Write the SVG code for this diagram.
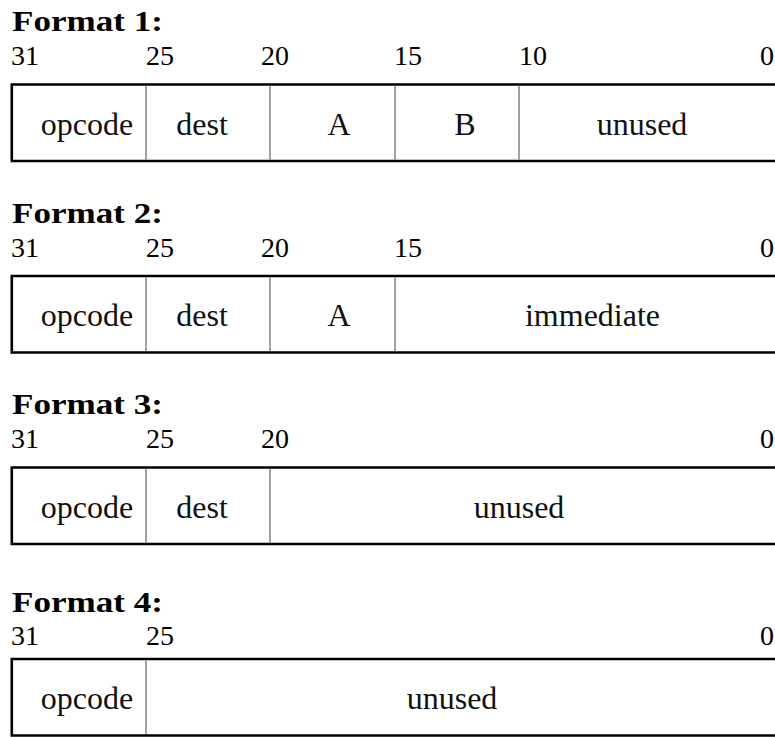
<svg xmlns="http://www.w3.org/2000/svg" width="775" height="737" viewBox="0 0 775 737" font-family="'Liberation Serif', 'Times New Roman', serif">
<style>
text{font-family:"Liberation Serif","Times New Roman",serif}
.title{font-weight:bold;font-size:30px;fill:#000}
.bit{font-size:28px;fill:#000}
.field{font-size:32px;fill:#111;text-anchor:middle}
.frame{fill:none;stroke:#000;stroke-width:2.6}
.div{stroke:#7a7a7a;stroke-width:1.4}
</style>
<rect width="775" height="737" fill="#fff"/>

<g id="format1">
<text class="title" x="12" y="31" textLength="151" lengthAdjust="spacingAndGlyphs">Format 1:</text>
<text class="bit" x="11" y="65">31</text>
<text class="bit" x="146" y="65">25</text>
<text class="bit" x="261" y="65">20</text>
<text class="bit" x="394" y="65">15</text>
<text class="bit" x="519" y="65">10</text>
<text class="bit" x="774" y="65" text-anchor="end">0</text>
<path class="frame" d="M776,84.5 H11.8 V161 H776"/>
<line class="div" x1="146" y1="85.8" x2="146" y2="159.7"/>
<line class="div" x1="270" y1="85.8" x2="270" y2="159.7"/>
<line class="div" x1="395" y1="85.8" x2="395" y2="159.7"/>
<line class="div" x1="519" y1="85.8" x2="519" y2="159.7"/>
<text class="field" x="87" y="134.5">opcode</text>
<text class="field" x="202" y="134.5">dest</text>
<text class="field" x="339" y="134.5">A</text>
<text class="field" x="465" y="134.5">B</text>
<text class="field" x="642" y="134.5">unused</text>
</g>

<g id="format2">
<text class="title" x="12" y="222.5" textLength="151" lengthAdjust="spacingAndGlyphs">Format 2:</text>
<text class="bit" x="11" y="256.5">31</text>
<text class="bit" x="146" y="256.5">25</text>
<text class="bit" x="261" y="256.5">20</text>
<text class="bit" x="394" y="256.5">15</text>
<text class="bit" x="774" y="256.5" text-anchor="end">0</text>
<path class="frame" d="M776,276 H11.8 V352.5 H776"/>
<line class="div" x1="146" y1="277.3" x2="146" y2="351.2"/>
<line class="div" x1="270" y1="277.3" x2="270" y2="351.2"/>
<line class="div" x1="395" y1="277.3" x2="395" y2="351.2"/>
<text class="field" x="87" y="326">opcode</text>
<text class="field" x="202" y="326">dest</text>
<text class="field" x="339" y="326">A</text>
<text class="field" x="592.5" y="326">immediate</text>
</g>

<g id="format3">
<text class="title" x="12" y="414" textLength="151" lengthAdjust="spacingAndGlyphs">Format 3:</text>
<text class="bit" x="11" y="448">31</text>
<text class="bit" x="146" y="448">25</text>
<text class="bit" x="261" y="448">20</text>
<text class="bit" x="774" y="448" text-anchor="end">0</text>
<path class="frame" d="M776,467.5 H11.8 V544 H776"/>
<line class="div" x1="146" y1="468.8" x2="146" y2="542.7"/>
<line class="div" x1="270" y1="468.8" x2="270" y2="542.7"/>
<text class="field" x="87" y="517.5">opcode</text>
<text class="field" x="202" y="517.5">dest</text>
<text class="field" x="519" y="517.5">unused</text>
</g>

<g id="format4">
<text class="title" x="12" y="612" textLength="151" lengthAdjust="spacingAndGlyphs">Format 4:</text>
<text class="bit" x="11" y="645">31</text>
<text class="bit" x="146" y="645">25</text>
<text class="bit" x="774" y="645" text-anchor="end">0</text>
<path class="frame" d="M776,659 H11.8 V735.5 H776"/>
<line class="div" x1="146" y1="660.3" x2="146" y2="734.2"/>
<text class="field" x="87" y="709">opcode</text>
<text class="field" x="452" y="709">unused</text>
</g>
</svg>
